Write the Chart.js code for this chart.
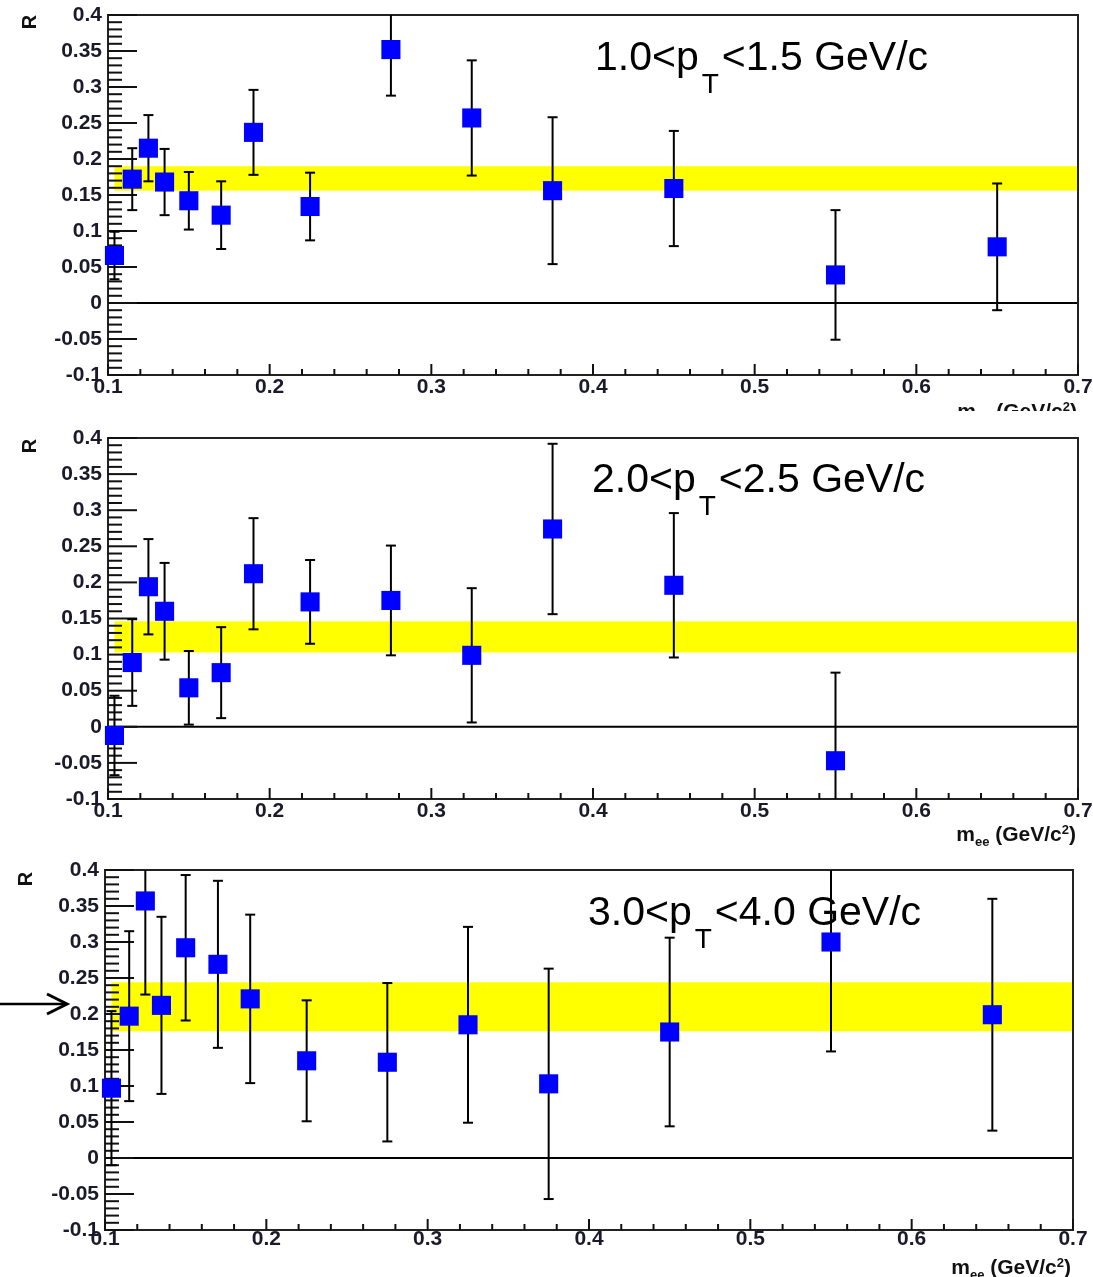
<!DOCTYPE html>
<html>
<head>
<meta charset="utf-8">
<script src="https://cdn.jsdelivr.net/npm/chart.js@4.4.0/dist/chart.umd.min.js"></script>
<style>
html,body{margin:0;padding:0;background:#fff;}
#wrap{position:relative;width:1093px;height:1277px;overflow:hidden;background:#fff;}
canvas{position:absolute;left:0;background:#fff;}
</style>
</head>
<body>
<div id="wrap">
<canvas id="c1" width="1093" height="420" style="top:0px"></canvas>
<canvas id="c2" width="1093" height="440" style="top:411px"></canvas>
<canvas id="c3" width="1093" height="427" style="top:850px"></canvas>
</div>
<script>
// ---------- data ----------
const xTickValues = [0.1, 0.2, 0.3, 0.4, 0.5, 0.6, 0.7];
const xTickLabels = ['0.1', '0.2', '0.3', '0.4', '0.5', '0.6', '0.7'];
const yTickValues = [-0.1, -0.05, 0, 0.05, 0.1, 0.15, 0.2, 0.25, 0.3, 0.35, 0.4];
const yTickLabels = ['-0.1', '-0.05', '0', '0.05', '0.1', '0.15', '0.2', '0.25', '0.3', '0.35', '0.4'];

// panel 1: 1.0 < pT < 1.5 GeV/c
const mass1 = [0.104, 0.115, 0.125, 0.135, 0.15, 0.17, 0.19, 0.225, 0.275, 0.325, 0.375, 0.45, 0.55, 0.65];
const ratio1 = [0.066, 0.172, 0.215, 0.168, 0.142, 0.122, 0.237, 0.134, 0.352, 0.257, 0.156, 0.159, 0.039, 0.078];
const err1 = [0.033, 0.043, 0.046, 0.046, 0.040, 0.047, 0.059, 0.047, 0.064, 0.080, 0.102, 0.080, 0.090, 0.088];
const band1 = [0.156, 0.190];

// panel 2: 2.0 < pT < 2.5 GeV/c
const mass2 = [0.104, 0.115, 0.125, 0.135, 0.15, 0.17, 0.19, 0.225, 0.275, 0.325, 0.375, 0.45, 0.55];
const ratio2 = [-0.012, 0.089, 0.194, 0.160, 0.054, 0.075, 0.212, 0.173, 0.175, 0.099, 0.274, 0.196, -0.047];
const err2 = [0.055, 0.060, 0.066, 0.067, 0.051, 0.063, 0.077, 0.058, 0.076, 0.093, 0.118, 0.100, 0.122];
const band2 = [0.103, 0.146];

// panel 3: 3.0 < pT < 4.0 GeV/c
const mass3 = [0.104, 0.115, 0.125, 0.135, 0.15, 0.17, 0.19, 0.225, 0.275, 0.325, 0.375, 0.45, 0.55, 0.65];
const ratio3 = [0.097, 0.197, 0.357, 0.212, 0.292, 0.269, 0.221, 0.135, 0.133, 0.185, 0.103, 0.175, 0.300, 0.199];
const err3 = [0.107, 0.118, 0.130, 0.123, 0.101, 0.116, 0.117, 0.084, 0.110, 0.136, 0.160, 0.131, 0.152, 0.161];
const band3 = [0.176, 0.244];

const bandMassRange = [0.104, 0.7];
const ptLabels = [
  ['1.0<p', 'T', '<1.5 GeV/c'],
  ['2.0<p', 'T', '<2.5 GeV/c'],
  ['3.0<p', 'T', '<4.0 GeV/c']
];
const xTitleParts = ['m', 'ee', ' (GeV/c', '2', ')'];
const yTitle = 'R';

// ---------- layout (pixels, canvas coordinates) ----------
const FONT = '"Liberation Sans", Arial, Helvetica, sans-serif';
const panels = [
  { id: 'c1', W: 1093, H: 420, area: {left: 108, right: 1078, top: 15, bottom: 375},
    mass: mass1, ratio: ratio1, err: err1, band: band1, label: ptLabels[0],
    labelPos: [595, 70], xTitleRight: 1077, xTitleBase: 418, yTitlePos: [30, 22], xPad: 0, arrow: false },
  { id: 'c2', W: 1093, H: 440, area: {left: 108, right: 1078, top: 27, bottom: 388},
    mass: mass2, ratio: ratio2, err: err2, band: band2, label: ptLabels[1],
    labelPos: [592, 81], xTitleRight: 1076, xTitleBase: 430, yTitlePos: [30, 35], xPad: 0, arrow: false },
  { id: 'c3', W: 1093, H: 427, area: {left: 105, right: 1073, top: 20, bottom: 380},
    mass: mass3, ratio: ratio3, err: err3, band: band3, label: ptLabels[2],
    labelPos: [588, 75], xTitleRight: 1071, xTitleBase: 424, yTitlePos: [26, 29], xPad: -3, arrow: true }
];

function drawPtLabel(ctx, parts, x, y) {
  ctx.save();
  ctx.fillStyle = '#000';
  ctx.textAlign = 'left';
  ctx.textBaseline = 'alphabetic';
  ctx.font = '41px ' + FONT;
  ctx.fillText(parts[0], x, y);
  let cx = x + ctx.measureText(parts[0]).width + 3;
  ctx.font = '28px ' + FONT;
  ctx.fillText(parts[1], cx, y + 23);
  cx += ctx.measureText(parts[1]).width + 3;
  ctx.font = '41px ' + FONT;
  ctx.fillText(parts[2], cx, y);
  ctx.restore();
}

function drawXTitle(ctx, right, base) {
  ctx.save();
  ctx.fillStyle = '#111';
  ctx.textAlign = 'left';
  ctx.textBaseline = 'alphabetic';
  const big = 'bold 21px ' + FONT, small = 'bold 13px ' + FONT;
  const fonts = [big, small, big, small, big];
  const dy = [0, 5, 0, -7, 0];
  let widths = fonts.map((f, i) => { ctx.font = f; return ctx.measureText(xTitleParts[i]).width; });
  let total = widths.reduce((a, b) => a + b, 0);
  let cx = right - total;
  for (let i = 0; i < xTitleParts.length; i++) {
    ctx.font = fonts[i];
    ctx.fillText(xTitleParts[i], cx, base + dy[i]);
    cx += widths[i];
  }
  ctx.restore();
}

const rootDecor = {
  id: 'rootDecor',
  beforeDatasetsDraw(chart, args, opts) {
    const p = opts.panel;
    const ctx = chart.ctx;
    const a = chart.chartArea;
    const xs = chart.scales.x, ys = chart.scales.y;
    ctx.save();
    // yellow band
    const bx0 = xs.getPixelForValue(bandMassRange[0]);
    const bx1 = xs.getPixelForValue(bandMassRange[1]);
    const by0 = ys.getPixelForValue(p.band[1]);
    const by1 = ys.getPixelForValue(p.band[0]);
    ctx.fillStyle = '#ffff00';
    ctx.fillRect(bx0, by0, bx1 - bx0, by1 - by0);
    // zero line
    ctx.strokeStyle = '#000';
    ctx.lineWidth = 2;
    const y0 = ys.getPixelForValue(0);
    ctx.beginPath(); ctx.moveTo(a.left, y0); ctx.lineTo(a.right, y0); ctx.stroke();
    // frame
    ctx.strokeStyle = '#222';
    ctx.lineWidth = 2;
    ctx.strokeRect(a.left, a.top, a.right - a.left, a.bottom - a.top);
    // y ticks (inward)
    ctx.strokeStyle = '#111';
    ctx.lineWidth = 2;
    for (let k = Math.round(ys.min * 100); k <= Math.round(ys.max * 100); k++) {
      const py = ys.getPixelForValue(k / 100);
      const len = (k % 5 === 0) ? 29 : 14;
      ctx.beginPath(); ctx.moveTo(a.left, py); ctx.lineTo(a.left + len, py); ctx.stroke();
    }
    // x ticks (upward)
    for (let k = Math.round(xs.min * 100); k <= Math.round(xs.max * 100); k += 2) {
      const px = xs.getPixelForValue(k / 100);
      const len = (k % 10 === 0) ? 11 : 6;
      ctx.beginPath(); ctx.moveTo(px, a.bottom); ctx.lineTo(px, a.bottom - len); ctx.stroke();
    }
    // pT label
    drawPtLabel(ctx, p.label, p.labelPos[0], p.labelPos[1]);
    // error bars
    ctx.strokeStyle = '#000';
    ctx.lineWidth = 2;
    for (let i = 0; i < p.mass.length; i++) {
      const px = xs.getPixelForValue(p.mass[i]);
      let top = ys.getPixelForValue(p.ratio[i] + p.err[i]);
      let bot = ys.getPixelForValue(p.ratio[i] - p.err[i]);
      const capTop = top >= a.top, capBot = bot <= a.bottom;
      top = Math.max(top, a.top); bot = Math.min(bot, a.bottom);
      ctx.beginPath(); ctx.moveTo(px, top); ctx.lineTo(px, bot); ctx.stroke();
      if (capTop) { ctx.beginPath(); ctx.moveTo(px - 5, top); ctx.lineTo(px + 5, top); ctx.stroke(); }
      if (capBot) { ctx.beginPath(); ctx.moveTo(px - 5, bot); ctx.lineTo(px + 5, bot); ctx.stroke(); }
    }
    // axis titles
    drawXTitle(ctx, p.xTitleRight, p.xTitleBase);
    ctx.save();
    ctx.translate(p.yTitlePos[0], p.yTitlePos[1]);
    ctx.rotate(-Math.PI / 2);
    ctx.font = 'bold 20px ' + FONT;
    ctx.fillStyle = '#111';
    ctx.textAlign = 'center';
    ctx.textBaseline = 'middle';
    ctx.fillText(yTitle, 0, 0);
    ctx.restore();
    // arrow
    if (p.arrow) {
      ctx.strokeStyle = '#000';
      ctx.lineWidth = 2.5;
      const ay = ys.getPixelForValue(0.2) - 10;
      ctx.beginPath(); ctx.moveTo(0, ay); ctx.lineTo(66, ay); ctx.stroke();
      ctx.lineWidth = 3;
      ctx.beginPath(); ctx.moveTo(47, ay - 10); ctx.lineTo(67, ay); ctx.lineTo(47, ay + 10); ctx.stroke();
    }
    ctx.restore();
  }
};

panels.forEach(p => {
  const ctx = document.getElementById(p.id).getContext('2d');
  new Chart(ctx, {
    type: 'scatter',
    data: {
      datasets: [{
        data: p.mass.map((m, i) => ({x: m, y: p.ratio[i]})),
        pointStyle: 'rect',
        pointRadius: 13.5,
        pointHoverRadius: 13.5,
        backgroundColor: '#0000ff',
        borderWidth: 0,
        clip: false
      }]
    },
    options: {
      responsive: false,
      animation: false,
      devicePixelRatio: 1,
      events: [],
      layout: { padding: { left: 0, top: p.area.top, right: p.W - p.area.right, bottom: 0 } },
      plugins: { legend: { display: false }, tooltip: { enabled: false }, rootDecor: { panel: p } },
      scales: {
        x: {
          type: 'linear', min: 0.1, max: 0.7,
          afterBuildTicks: s => { s.ticks = xTickValues.map(v => ({value: v})); },
          ticks: {
            callback: (v, i) => xTickLabels[i],
            font: { family: FONT, size: 21, weight: 'bold', lineHeight: 1.2 },
            color: '#1a1a2a', padding: p.xPad, maxRotation: 0, autoSkip: false
          },
          grid: { display: false, drawTicks: false },
          border: { display: false },
          afterFit: s => { s.height = p.H - p.area.bottom; s.paddingLeft = 0; s.paddingRight = 0; }
        },
        y: {
          type: 'linear', min: -0.1, max: 0.4,
          afterBuildTicks: s => { s.ticks = yTickValues.map(v => ({value: v})); },
          ticks: {
            callback: (v, i) => yTickLabels[i],
            font: { family: FONT, size: 21, weight: 'bold', lineHeight: 1.2 },
            color: '#1a1a2a', padding: 6, autoSkip: false
          },
          grid: { display: false, drawTicks: false },
          border: { display: false },
          afterFit: s => { s.width = p.area.left; s.paddingTop = 0; s.paddingBottom = 0; }
        }
      }
    },
    plugins: [rootDecor]
  });
});
</script>
</body>
</html>
